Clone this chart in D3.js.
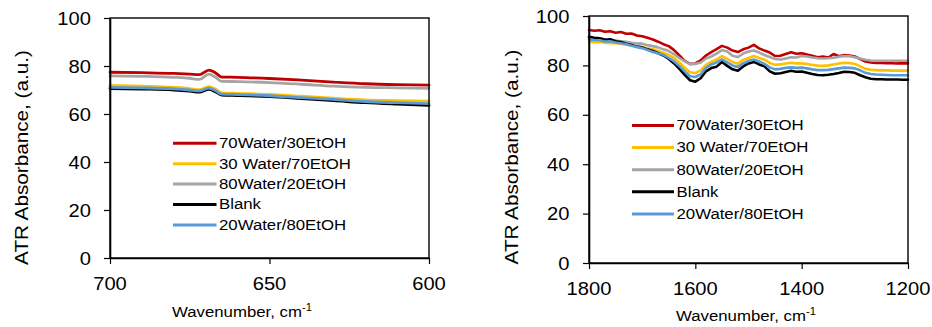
<!DOCTYPE html>
<html><head><meta charset="utf-8">
<script src="https://cdn.jsdelivr.net/npm/d3@7"></script>
<style>
body{margin:0;background:#fff}
svg{display:block}
text{font-family:Arial,"Liberation Sans",sans-serif;fill:#000}
</style>
</head><body>
<svg id="chart" width="932" height="327"></svg>
<script>
// ---------- DATA ----------
const seriesNames = ["70Water/30EtOH", "30 Water/70EtOH", "80Water/20EtOH", "Blank", "20Water/80EtOH"];
const seriesColors = ["#C00000", "#FFC000", "#A5A5A5", "#000000", "#5B9BD5"];
const yTicks = [0, 20, 40, 60, 80, 100];
const leftXTicks = [700, 650, 600];
const rightXTicks = [1800, 1600, 1400, 1200];

// Left panel (700-600 cm-1)
const leftWavenumbers = [700, 690, 680, 675, 672, 669, 667, 665, 660, 650, 640, 630, 620, 610, 600];
const leftRed    = [77.4, 77.2, 76.9, 76.6, 76.4, 78.3, 77.2, 75.4, 75.3, 74.8, 74.1, 73.3, 72.6, 72.2, 72.0];
const leftYellow = [71.9, 71.6, 71.1, 70.6, 70.1, 71.4, 70.4, 68.8, 68.6, 68.2, 67.4, 66.6, 65.9, 65.6, 65.4];
const leftGray   = [75.9, 75.7, 75.3, 74.9, 74.4, 76.6, 75.4, 73.6, 73.5, 73.1, 72.4, 71.6, 71.1, 70.9, 70.7];
const leftBlack  = [70.6, 70.4, 70.0, 69.5, 69.1, 70.3, 69.3, 67.9, 67.7, 67.2, 66.4, 65.6, 64.7, 64.1, 63.6];
const leftBlue   = [71.1, 70.9, 70.5, 70.0, 69.6, 70.8, 69.8, 68.3, 68.1, 67.6, 66.8, 66.1, 65.2, 64.7, 64.3];

// Right panel (1800-1200 cm-1)
const rightWavenumbers = [1800,1790,1780,1770,1760,1750,1740,1730,1720,1710,1700,1690,1680,1670,1660,1650,1640,1630,1620,1610,
  1600,1590,1580,1570,1560,1550,1540,1530,1520,1510,1500,1490,1480,1470,1460,1450,1440,1430,1420,1410,
  1400,1390,1380,1370,1360,1350,1340,1330,1320,1310,1300,1290,1280,1270,1260,1250,1240,1230,1220,1210,1200];
const rightRed = [94.3,94.0,94.2,93.6,93.8,93.2,93.5,92.8,92.9,92.1,91.8,91.2,90.5,89.6,88.6,87.8,86.2,84.0,81.8,80.6,
  80.8,82.0,84.0,85.4,86.6,87.9,87.2,86.0,85.4,86.5,87.2,88.3,86.9,86.0,85.2,83.8,83.9,84.6,85.3,84.7,
  84.9,84.4,83.9,83.3,83.6,83.2,84.6,83.7,84.2,84.0,83.6,82.6,81.6,81.2,81.0,81.0,80.9,80.9,80.8,80.8,80.8];
const rightYellow = [89.6,89.4,89.5,89.2,89.0,89.0,88.8,88.4,88.2,87.7,87.4,86.9,86.5,85.8,85.1,84.2,83.0,81.2,79.0,77.2,
  76.9,78.0,80.2,81.4,82.4,83.8,82.6,81.4,80.7,82.2,83.0,83.8,83.0,82.3,81.0,80.2,80.4,80.8,81.1,80.8,
  80.8,80.6,80.2,79.9,79.8,80.0,80.4,80.8,81.1,81.0,80.6,79.6,78.6,78.2,78.1,78.0,78.0,77.9,77.9,77.9,77.9];
const rightGray = [91.2,90.9,91.0,90.5,90.4,90.1,89.8,89.6,89.2,88.9,88.8,88.2,87.8,87.3,86.5,85.8,84.5,83.0,81.6,80.5,
  80.6,81.2,82.8,83.6,84.8,86.2,85.6,83.9,83.4,84.8,85.6,86.0,85.2,84.2,83.4,82.6,82.4,82.8,83.3,83.2,
  83.8,83.6,83.2,82.9,82.8,82.9,83.1,83.5,83.8,83.7,83.3,82.8,82.3,82.0,81.9,81.9,81.9,81.9,81.9,81.9,81.9];
const rightBlack = [91.6,91.2,91.0,90.4,90.6,89.8,89.5,88.8,88.3,87.6,87.3,86.5,85.8,84.9,84.0,82.6,80.8,78.6,76.2,74.0,
  73.4,74.8,77.6,78.9,79.5,81.4,79.8,78.4,77.8,79.6,80.8,81.4,80.4,79.6,77.6,76.6,76.8,77.3,77.8,77.4,
  77.5,77.0,76.5,76.1,76.0,76.2,76.5,76.9,77.4,77.3,77.0,76.0,75.2,74.6,74.4,74.4,74.3,74.3,74.3,74.2,74.2];
const rightBlue = [90.5,90.3,90.2,89.7,89.8,89.3,89.0,88.6,88.0,87.4,87.0,86.2,85.4,84.8,84.3,83.0,81.6,79.8,77.6,75.6,
  75.3,76.4,79.0,80.4,81.2,82.4,81.2,80.0,79.4,80.8,81.8,82.4,81.6,80.6,79.2,78.4,78.6,79.0,79.2,79.0,
  79.1,78.8,78.4,78.1,78.1,78.2,78.5,78.8,79.1,79.0,78.8,78.0,77.0,76.5,76.3,76.2,76.1,76.0,76.0,76.0,76.0];

const yTitle = "ATR Absorbance, (a.u.)";
const xTitle = "Wavenumber, cm";
const xTitleSup = "-1";

// ---------- DRAW ----------
const svg = d3.select("#chart");
const SX = 1.12; // horizontal glyph stretch

function addText(g, x, y, str, size, anchor, rot) {
  return g.append("text")
    .attr("transform", `translate(${x},${y}) rotate(${rot || 0}) scale(${SX},1)`)
    .attr("font-size", size)
    .attr("text-anchor", anchor || "start")
    .text(str);
}

function panel(cfg) {
  const g = svg.append("g");
  const x = d3.scaleLinear().domain(cfg.xDomain).range([cfg.left, cfg.right]);
  const y = d3.scaleLinear().domain([0, 100]).range([cfg.bottom, cfg.top]);

  // series
  const line = d3.line().x(d => x(d[0])).y(d => y(d[1])).curve(cfg.curve);
  cfg.series.forEach((vals, i) => {
    const pts = cfg.xs.map((w, j) => [w, vals[j]]);
    g.append("path").datum(pts)
      .attr("d", line)
      .attr("fill", "none")
      .attr("stroke", seriesColors[i])
      .attr("stroke-width", cfg.lw)
      .attr("stroke-linejoin", "round")
      .attr("stroke-linecap", "round");
  });

  // frame
  g.append("rect")
    .attr("x", cfg.left).attr("y", cfg.top)
    .attr("width", cfg.right - cfg.left).attr("height", cfg.bottom - cfg.top)
    .attr("fill", "none").attr("stroke", "#000").attr("stroke-width", 1.4);

  // y axis ticks
  const yAxis = d3.axisLeft(y).tickValues(yTicks).tickSize(6).tickSizeOuter(0).tickFormat("");
  g.append("g").attr("transform", `translate(${cfg.left},0)`).call(yAxis)
    .call(s => s.select(".domain").attr("stroke-width", 1.6))
    .call(s => s.selectAll(".tick line").attr("stroke-width", 1.2));
  yTicks.forEach(t => addText(g, cfg.yLabelRight, y(t) + 6.6, String(t), 18, "end"));

  // x axis ticks
  const xAxis = d3.axisBottom(x).tickValues(cfg.xTicks).tickSize(6).tickSizeOuter(0).tickFormat("");
  g.append("g").attr("transform", `translate(0,${cfg.bottom})`).call(xAxis)
    .call(s => s.select(".domain").attr("stroke-width", 1.6))
    .call(s => s.selectAll(".tick line").attr("stroke-width", 1.2));
  cfg.xTicks.forEach(t => addText(g, x(t), cfg.xLabelY, String(t), 18, "middle"));

  // titles
  const xt = addText(g, cfg.xTitleX, cfg.xTitleY, xTitle, 15, "start");
  xt.append("tspan").attr("font-size", 10).attr("dy", -6).text(xTitleSup);
  addText(g, cfg.yTitleX, cfg.yTitleY, yTitle, 18.5, "middle", -90);

  // legend
  seriesNames.forEach((n, i) => {
    const ly = cfg.legY + i * cfg.legGap;
    g.append("line")
      .attr("x1", cfg.legX1).attr("x2", cfg.legX2)
      .attr("y1", ly).attr("y2", ly)
      .attr("stroke", seriesColors[i]).attr("stroke-width", 3);
    addText(g, cfg.legX2 + 2.5, ly + 4.8, n, 15, "start");
  });
}

panel({
  xDomain: [700, 600], xs: leftWavenumbers,
  series: [leftRed, leftYellow, leftGray, leftBlack, leftBlue],
  xTicks: leftXTicks, curve: d3.curveMonotoneX, lw: 2.8,
  left: 110, right: 429, top: 18, bottom: 258,
  yLabelRight: 91, xLabelY: 290,
  xTitleX: 172, xTitleY: 317, yTitleX: 27.5, yTitleY: 157.5,
  legX1: 173, legX2: 216.5, legY: 143.3, legGap: 20.4
});

panel({
  xDomain: [1800, 1200], xs: rightWavenumbers,
  series: [rightRed, rightYellow, rightGray, rightBlack, rightBlue],
  xTicks: rightXTicks, curve: d3.curveLinear, lw: 2.6,
  left: 589, right: 908, top: 16, bottom: 263,
  yLabelRight: 569.5, xLabelY: 295,
  xTitleX: 676, xTitleY: 321, yTitleX: 517.7, yTitleY: 157,
  legX1: 632, legX2: 674, legY: 125.5, legGap: 22.1
});
</script>
</body></html>
